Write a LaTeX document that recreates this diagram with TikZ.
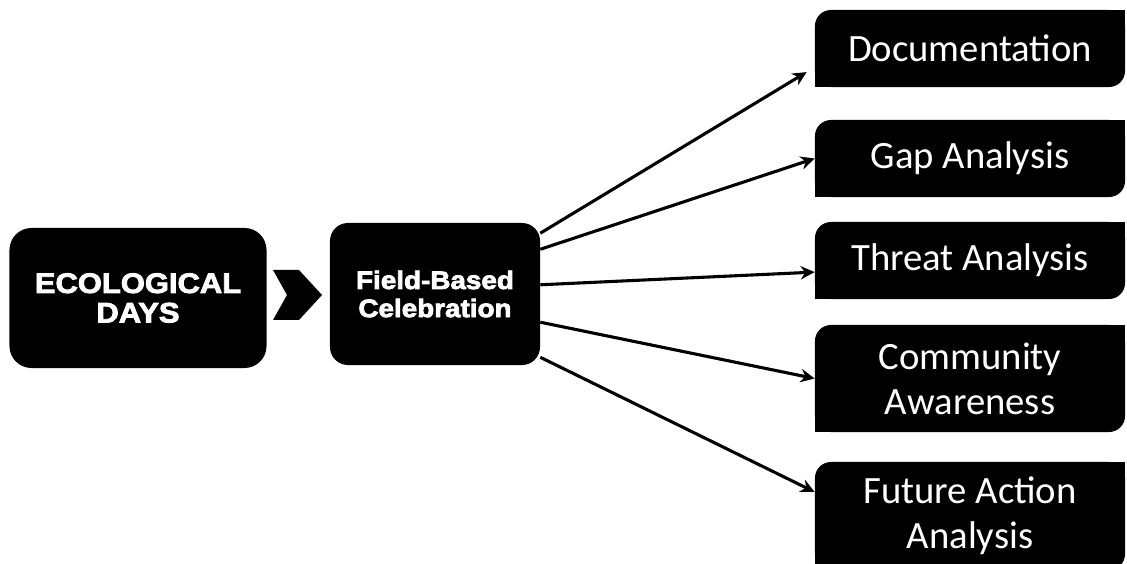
\documentclass[tikz,border=0pt]{standalone}
\usepackage{fontspec}
\newfontfamily\headfont[BoldFeatures={FakeBold=3, FakeStretch=1.1}]{Liberation Sans}
\newfontfamily\itemfont{Carlito}
\usetikzlibrary{arrows.meta}
\begin{document}
\begin{tikzpicture}[
            x=0.025cm,
            y=-0.025cm,
            headbox/.style={fill=black, text=white, align=center, inner sep=0pt},
            itembox/.style={fill=black, text=white, align=center, inner sep=0pt,
                rounded corners=0.4cm, minimum width=7.75cm,
                font=\itemfont\fontsize{27.5}{32}\selectfont},
            link/.style={line width=2.2pt, -{Stealth[length=10pt, width=9.5pt]}}
        ]
        \fill[white] (0,0) rectangle (1127,564);
        \useasboundingbox (0,0) rectangle (1127,564);

        \node[headbox, rounded corners=0.55cm, minimum width=6.425cm, minimum height=3.5cm,
            font=\headfont\bfseries\fontsize{20}{21}\selectfont]
            (eco) at (138,298) {ECOLOGICAL\\DAYS};
        \node[headbox, rounded corners=0.45cm, minimum width=5.25cm, minimum height=3.55cm,
            font=\headfont\bfseries\fontsize{18}{20}\selectfont]
            (field) at (435,294) {Field-Based\\Celebration};

        \node[itembox, minimum height=1.925cm] (doc) at (970,48.5) {Documentation};
        \node[itembox, minimum height=1.925cm] (gap) at (970,158.5) {Gap Analysis};
        \node[itembox, minimum height=1.925cm] (threat) at (970,260.5) {Threat Analysis};
        \node[itembox, minimum height=2.675cm] (comm) at (970,378.5) {Community\\Awareness};
        \node[itembox, minimum height=2.7cm] (future) at (970,516) {Future Action\\Analysis};

        % square corners top right and bottom left
        \foreach \n in {doc,gap,threat,comm,future} {
            \fill (\n.north east) rectangle ++(-20,20);
            \fill (\n.south west) rectangle ++(20,-20);
        }

        % chevron between the two boxes
        \fill (273,270) -- (299,270) -- (322,295) -- (299,320) -- (273,320) -- (287,295) -- cycle;

        \draw[link] (field.30) -- ([xshift=-0.2cm, yshift=-0.59cm]doc.west);
        \draw[link] (field.23) -- (gap.west);
        \draw[link] (field.5) -- ([yshift=-0.29cm]threat.west);
        \draw[link] (field.-15) -- (comm.west);
        \draw[link] (field.-31) -- ([yshift=0.6cm]future.west);
    \end{tikzpicture}
\end{document}
